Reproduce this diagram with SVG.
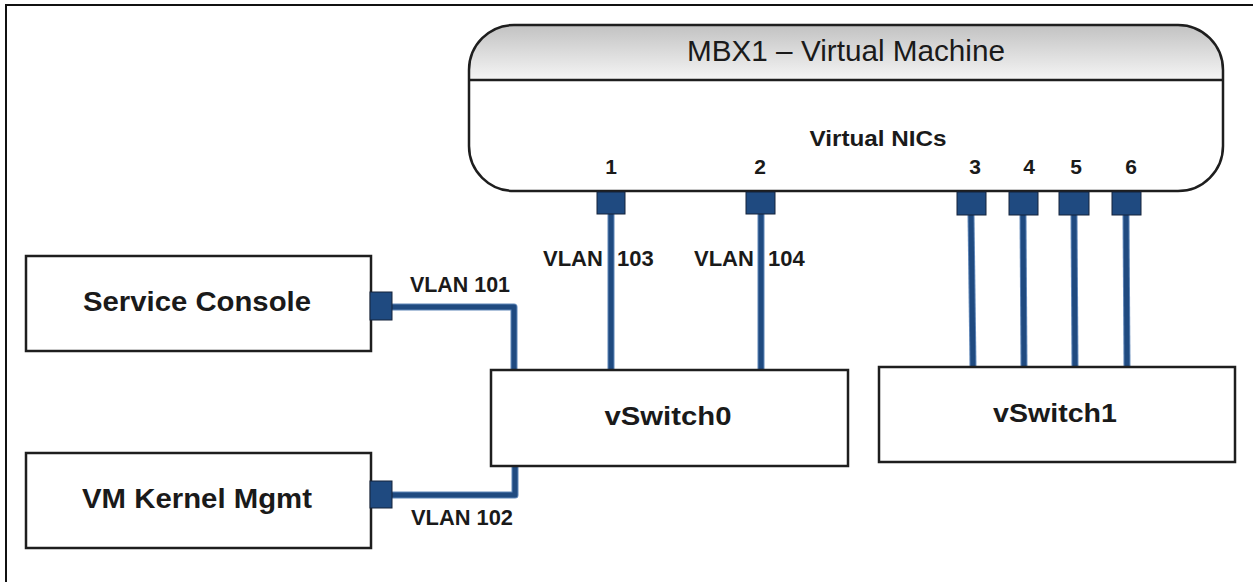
<svg xmlns="http://www.w3.org/2000/svg" width="1253" height="582" viewBox="0 0 1253 582">
<style>
  text { font-family: "Liberation Sans", Arial, sans-serif; fill: #1a1a1a; }
  .b { font-weight: bold; }
  .box { fill: #ffffff; stroke: #1e1e1e; stroke-width: 2.5; }
  .shadow { fill: none; stroke: #9a9a9a; stroke-width: 2; }
  .port { fill: #1f4a80; stroke: #15233a; stroke-width: 1; }
  .wire-o { fill: none; stroke: #5f86b8; stroke-width: 7; stroke-linejoin: round; }
  .wire-i { fill: none; stroke: #1f4a80; stroke-width: 5; stroke-linejoin: round; }
</style>
<defs>
  <linearGradient id="hdr" x1="0" y1="0" x2="0" y2="1">
    <stop offset="0" stop-color="#c2c2c2"/>
    <stop offset="1" stop-color="#f6f6f6"/>
  </linearGradient>
  <clipPath id="vmclip">
    <rect x="469" y="25" width="754" height="166" rx="45" ry="45"/>
  </clipPath>
</defs>
<rect x="0" y="0" width="1253" height="582" fill="#ffffff"/>
<!-- outer frame -->
<path d="M6,582 V5 H1253" fill="none" stroke="#111" stroke-width="2"/>

<g id="connectors">
  <g id="wires-outer">
    <path class="wire-o" d="M392,307 H514 V370"/>
    <path class="wire-o" d="M392,495 H515 V466"/>
    <path class="wire-o" d="M611,214 V370"/>
    <path class="wire-o" d="M761,214 V370"/>
    <path class="wire-o" d="M971,215 L973,367"/>
    <path class="wire-o" d="M1023,215 L1024,367"/>
    <path class="wire-o" d="M1074,215 L1075,367"/>
    <path class="wire-o" d="M1126,215 L1127,367"/>
  </g>
  <g id="wires-inner">
    <path class="wire-i" d="M392,307 H514 V370"/>
    <path class="wire-i" d="M392,495 H515 V466"/>
    <path class="wire-i" d="M611,214 V370"/>
    <path class="wire-i" d="M761,214 V370"/>
    <path class="wire-i" d="M971,215 L973,367"/>
    <path class="wire-i" d="M1023,215 L1024,367"/>
    <path class="wire-i" d="M1074,215 L1075,367"/>
    <path class="wire-i" d="M1126,215 L1127,367"/>
  </g>
  <text class="b" x="410" y="292" font-size="21.5" textLength="100" lengthAdjust="spacingAndGlyphs">VLAN 101</text>
  <text class="b" x="411" y="525" font-size="21.5" textLength="102" lengthAdjust="spacingAndGlyphs">VLAN 102</text>
  <text class="b" x="543" y="266" font-size="22">VLAN <tspan x="617">103</tspan></text>
  <text class="b" x="694" y="266" font-size="22">VLAN <tspan x="768">104</tspan></text>
</g>

<g id="vm">
  <rect x="469" y="25" width="754" height="56" fill="url(#hdr)" clip-path="url(#vmclip)"/>
  <rect x="469" y="25" width="754" height="166" rx="45" ry="45" fill="none" stroke="#1e1e1e" stroke-width="2.5"/>
  <line x1="469" y1="80" x2="1223" y2="80" stroke="#1e1e1e" stroke-width="2.5"/>
  <text x="846" y="61" font-size="29" text-anchor="middle" fill="#2a2a2a" textLength="318" lengthAdjust="spacingAndGlyphs">MBX1 – Virtual Machine</text>
  <text class="b" x="878" y="146" font-size="22" text-anchor="middle" textLength="137" lengthAdjust="spacingAndGlyphs">Virtual NICs</text>
  <g class="b" font-size="21" text-anchor="middle">
    <text class="b" x="611" y="174">1</text>
    <text class="b" x="760" y="174">2</text>
    <text class="b" x="975" y="174">3</text>
    <text class="b" x="1029" y="174">4</text>
    <text class="b" x="1076" y="174">5</text>
    <text class="b" x="1131" y="174">6</text>
  </g>
  <rect class="port" x="597" y="192" width="28" height="22"/>
  <rect class="port" x="746" y="192" width="29" height="22"/>
  <rect class="port" x="957" y="192" width="29" height="23"/>
  <rect class="port" x="1009" y="192" width="29" height="23"/>
  <rect class="port" x="1059" y="192" width="30" height="23"/>
  <rect class="port" x="1112" y="192" width="29" height="23"/>
</g>

<g id="service-console">
  <rect class="box" x="26" y="256" width="345" height="95"/>
  <text class="b" x="197" y="311" font-size="27" text-anchor="middle" textLength="228" lengthAdjust="spacingAndGlyphs">Service Console</text>
  <rect class="port" x="370" y="292" width="22" height="28"/>
</g>

<g id="vm-kernel-mgmt">
  <rect class="box" x="26" y="453" width="345" height="95"/>
  <text class="b" x="197" y="508" font-size="27" text-anchor="middle" textLength="230" lengthAdjust="spacingAndGlyphs">VM Kernel Mgmt</text>
  <rect class="port" x="370" y="481" width="22" height="27"/>
</g>

<g id="vswitch0">
  <rect class="box" x="491" y="370" width="357" height="96"/>
  <text class="b" x="668" y="425" font-size="26" text-anchor="middle" textLength="127" lengthAdjust="spacingAndGlyphs">vSwitch0</text>
</g>

<g id="vswitch1">
  <rect class="box" x="879" y="367" width="356" height="95"/>
  <text class="b" x="1055" y="422" font-size="26" text-anchor="middle" textLength="124" lengthAdjust="spacingAndGlyphs">vSwitch1</text>
</g>
</svg>
